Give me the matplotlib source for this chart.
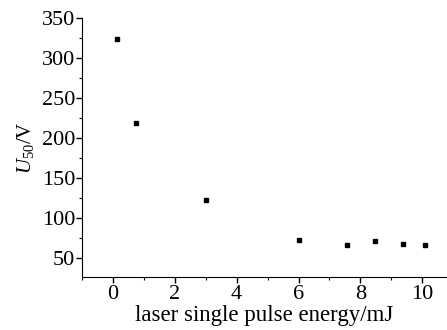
import matplotlib
matplotlib.use("Agg")
import matplotlib.pyplot as plt
from matplotlib.ticker import MultipleLocator

energy = [0.13, 0.75, 3.02, 6.0, 7.57, 8.46, 9.37, 10.08]
u50 = [324, 219, 122, 72, 66.5, 71, 67, 66.5]

plt.rcParams['font.family'] = ['Liberation Serif', 'DejaVu Serif']
plt.rcParams['mathtext.fontset'] = 'custom'
plt.rcParams['mathtext.it'] = 'Liberation Serif:italic'
plt.rcParams['mathtext.rm'] = 'Liberation Serif'

fig = plt.figure(figsize=(4.47, 3.30), dpi=100)
ax = fig.add_axes([82/447, 53/330, (447-82)/447, (277-18.3)/330])
ax.plot(energy, u50, 's', color='black', markersize=3.5, linestyle='none')
ax.set_xlim(-1.0, 10.8)
ax.set_ylim(26, 350)
ax.spines['top'].set_visible(False)
ax.spines['right'].set_visible(False)
ax.xaxis.set_major_locator(MultipleLocator(2))
ax.xaxis.set_minor_locator(MultipleLocator(1))
ax.yaxis.set_major_locator(MultipleLocator(50))
ax.yaxis.set_minor_locator(MultipleLocator(25))
ax.set_yticks([50, 100, 150, 200, 250, 300, 350])
ax.tick_params(axis='both', which='major', direction='out', length=4, width=1, labelsize=16, pad=1)
ax.tick_params(axis='both', which='minor', direction='out', length=2.5, width=0.8)
ax.tick_params(axis='x', pad=2)
ax.set_xlabel('laser single pulse energy/mJ', fontsize=16.5, labelpad=0.5)
ax.set_ylabel('$U_{50}$/V', fontsize=15)
ax.yaxis.set_label_coords(-0.126, 0.50)
fig.savefig('out.png', dpi=100)
